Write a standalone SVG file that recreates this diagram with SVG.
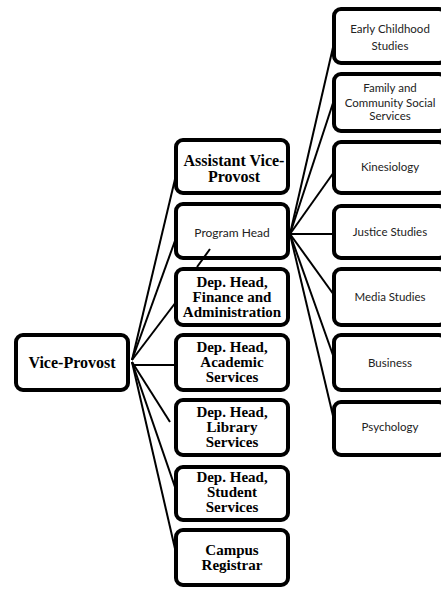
<svg xmlns="http://www.w3.org/2000/svg" width="441" height="589" viewBox="0 0 441 589">
<style>
.box{fill:#fff;stroke:#000;stroke-width:4}
.c line{stroke:#000;stroke-width:2}
.b{font-family:"Liberation Serif",serif;font-weight:bold;font-size:15px;fill:#000;text-anchor:middle}
.s{font-family:Lato,"Open Sans",sans-serif;font-size:11.5px;fill:#222;text-anchor:middle}
</style>
<rect width="441" height="589" fill="#fff"/>
<g class="c" id="connectors">
<line x1="132" y1="360" x2="176" y2="175"/>
<line x1="132" y1="360" x2="176" y2="238"/>
<line x1="132" y1="360" x2="176" y2="302"/>
<line x1="132" y1="365" x2="176" y2="365"/>
<line x1="132" y1="362" x2="170" y2="422"/>
<line x1="132" y1="362" x2="176" y2="490"/>
<line x1="132" y1="362" x2="176" y2="553"/>
<line x1="290" y1="234" x2="334" y2="43"/>
<line x1="290" y1="234" x2="334" y2="100"/>
<line x1="290" y1="234" x2="334" y2="172"/>
<line x1="290" y1="234" x2="334" y2="234"/>
<line x1="290" y1="234" x2="334" y2="295"/>
<line x1="290" y1="234" x2="334" y2="358"/>
<line x1="290" y1="234" x2="334" y2="420"/>
</g>
<g id="vice-provost"><rect class="box" x="16" y="335" width="112" height="55" rx="7"/><text class="b" x="72" y="368" style="font-size:16px">Vice-Provost</text></g>
<g id="assistant-vp"><rect class="box" x="176" y="140" width="112" height="53" rx="7"/><text class="b" x="234" y="166" style="font-size:16px">Assistant Vice-</text><text class="b" x="234" y="182" style="font-size:16px">Provost</text></g>
<g id="program-head"><rect class="box" x="176" y="204" width="112" height="54" rx="7"/><text class="s" x="232" y="237" style="font-size:12px">Program Head</text></g>
<g id="finance"><rect class="box" x="176" y="269" width="112" height="56" rx="7"/><text class="b" x="232" y="287">Dep. Head,</text><text class="b" x="232" y="302">Finance and</text><text class="b" x="232" y="317">Administration</text></g>
<g id="academic"><rect class="box" x="176" y="335" width="112" height="55" rx="7"/><text class="b" x="232" y="352">Dep. Head,</text><text class="b" x="232" y="367">Academic</text><text class="b" x="232" y="382">Services</text></g>
<g id="library"><rect class="box" x="176" y="400" width="112" height="55" rx="7"/><text class="b" x="232" y="417">Dep. Head,</text><text class="b" x="232" y="432">Library</text><text class="b" x="232" y="447">Services</text></g>
<g id="student"><rect class="box" x="176" y="467" width="112" height="53" rx="7"/><text class="b" x="232" y="482">Dep. Head,</text><text class="b" x="232" y="497">Student</text><text class="b" x="232" y="512">Services</text></g>
<g id="registrar"><rect class="box" x="176" y="530" width="112" height="55" rx="7"/><text class="b" x="232" y="555">Campus</text><text class="b" x="232" y="570">Registrar</text></g>
<g id="early-childhood"><rect class="box" x="334" y="9" width="112" height="54" rx="7"/><text class="s" x="390" y="33">Early Childhood</text><text class="s" x="390" y="50">Studies</text></g>
<g id="family"><rect class="box" x="334" y="74" width="112" height="57" rx="7"/><text class="s" x="390" y="92">Family and</text><text class="s" x="390" y="107">Community Social</text><text class="s" x="390" y="120">Services</text></g>
<g id="kinesiology"><rect class="box" x="334" y="142" width="112" height="51" rx="7"/><text class="s" x="390" y="171">Kinesiology</text></g>
<g id="justice"><rect class="box" x="334" y="206" width="112" height="52" rx="7"/><text class="s" x="390" y="236">Justice Studies</text></g>
<g id="media"><rect class="box" x="334" y="269" width="112" height="56" rx="7"/><text class="s" x="390" y="301">Media Studies</text></g>
<g id="business"><rect class="box" x="334" y="335" width="112" height="55" rx="7"/><text class="s" x="390" y="367">Business</text></g>
<g id="psychology"><rect class="box" x="334" y="402" width="112" height="53" rx="7"/><text class="s" x="390" y="431">Psychology</text></g>
<g class="c" id="connector-stub"><line x1="197" y1="267" x2="210" y2="249"/></g>
</svg>
